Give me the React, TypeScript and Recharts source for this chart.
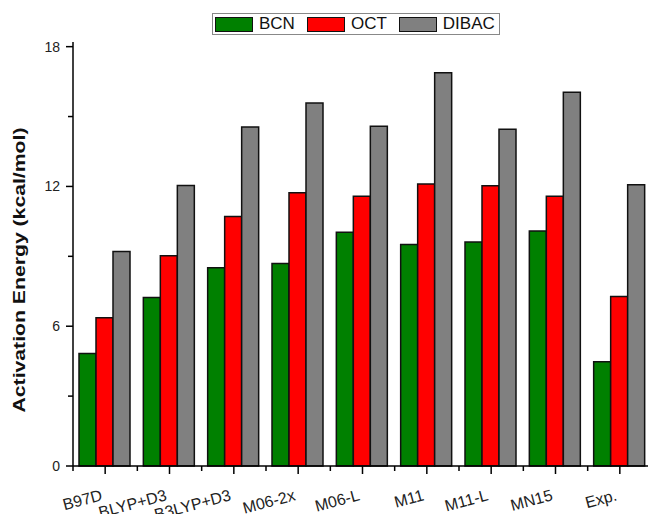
import React from "react";
import {
  BarChart,
  Bar,
  XAxis,
  YAxis,
  Legend,
} from "recharts";

// functionals / reference along the x axis
const categories = [
  "B97D",
  "BLYP+D3",
  "B3LYP+D3",
  "M06-2x",
  "M06-L",
  "M11",
  "M11-L",
  "MN15",
  "Exp.",
];

// activation energies in kcal/mol
const bcn = [4.83, 7.23, 8.51, 8.69, 10.03, 9.51, 9.61, 10.09, 4.47];
const oct = [6.36, 9.02, 10.71, 11.73, 11.58, 12.11, 12.03, 11.58, 7.28];
const dibac = [9.21, 12.04, 14.55, 15.58, 14.58, 16.88, 14.45, 16.04, 12.07];

const seriesNames = ["BCN", "OCT", "DIBAC"];
const yTicks = [0, 3, 6, 9, 12, 15, 18];

const data = categories.map((name, i) => ({
  name,
  BCN: bcn[i],
  OCT: oct[i],
  DIBAC: dibac[i],
}));

const FONT = "Arial, 'Liberation Sans', sans-serif";
const CHART_W = 660;
const CHART_H = 514;
const LEFT = 73;
const RIGHT = 8;
const BAND = (CHART_W - LEFT - RIGHT) / categories.length;

function YTick(props: any) {
  const { x, y, payload } = props;
  const major = payload.value % 6 === 0;
  return (
    <g>
      <line
        x1={x - (major ? 7 : 5)}
        x2={x}
        y1={y}
        y2={y}
        stroke="#000"
        strokeWidth={1.5}
      />
      {major && (
        <text
          x={x - 13}
          y={y}
          dy={5}
          textAnchor="end"
          fontSize={14}
          fontFamily={FONT}
          fill="#222"
        >
          {payload.value}
        </text>
      )}
    </g>
  );
}

function XTick(props: any) {
  const { x, y, payload } = props;
  const lx = x - 2;
  const ly = y + 34;
  return (
    <g>
      <line x1={x} x2={x} y1={y} y2={y + 8} stroke="#000" strokeWidth={1.5} />
      <line
        x1={x - BAND / 2}
        x2={x - BAND / 2}
        y1={y}
        y2={y + 5}
        stroke="#000"
        strokeWidth={1.5}
      />
      <text
        x={lx}
        y={ly}
        textAnchor="end"
        fontSize={16}
        fontFamily={FONT}
        fill="#222"
        transform={`rotate(-15, ${lx}, ${ly})`}
      >
        {payload.value}
      </text>
    </g>
  );
}

function YLabel() {
  return (
    <text
      x={25}
      y={270}
      transform="rotate(-90, 25, 270)"
      textAnchor="middle"
      fontSize={17}
      fontWeight="bold"
      fontFamily={FONT}
      fill="#111"
      textLength={285}
      lengthAdjust="spacingAndGlyphs"
    >
      Activation Energy (kcal/mol)
    </text>
  );
}

function LegendBox(props: any) {
  const items = [...(props.payload || [])].sort(
    (a: any, b: any) =>
      seriesNames.indexOf(a.value) - seriesNames.indexOf(b.value)
  );
  return (
    <div
      style={{
        display: "flex",
        alignItems: "center",
        border: "1.5px solid #888",
        background: "#fff",
        height: 20,
        padding: "0 0 0 2px",
        boxSizing: "content-box",
        fontFamily: FONT,
        fontSize: 17,
        color: "#111",
      }}
    >
      {items.map((entry: any, i: number) => (
        <div
          key={entry.value}
          style={{
            display: "flex",
            alignItems: "center",
            marginRight: i === items.length - 1 ? 4 : 12,
          }}
        >
          <div
            style={{
              width: 36,
              height: 13,
              background: entry.color,
              border: "1.5px solid #111",
              marginRight: 6,
            }}
          />
          <span style={{ lineHeight: "20px" }}>{entry.value}</span>
        </div>
      ))}
    </div>
  );
}

export default function App() {
  return (
    <div
      style={{
        position: "absolute",
        left: 0,
        top: 0,
        width: 648,
        height: 514,
        overflow: "hidden",
        background: "#fff",
      }}
    >
      <BarChart
        width={CHART_W}
        height={CHART_H}
        data={data}
        margin={{ top: 42, right: RIGHT, bottom: 0, left: 0 }}
        barGap={0}
        barCategoryGap={6}
      >
        <XAxis
          dataKey="name"
          interval={0}
          height={48}
          tickSize={0}
          tickMargin={0}
          tick={<XTick />}
          axisLine={{ stroke: "#000", strokeWidth: 1.5 }}
        />
        <XAxis
          xAxisId="top"
          orientation="top"
          dataKey="name"
          height={0}
          tick={false}
          tickLine={false}
          axisLine={{ stroke: "#000", strokeWidth: 1.5 }}
        />
        <YAxis
          width={LEFT}
          domain={[0, 18.2]}
          ticks={yTicks}
          interval={0}
          tickSize={0}
          tickMargin={0}
          tick={<YTick />}
          axisLine={{ stroke: "#000", strokeWidth: 1.5 }}
          label={{ content: () => <YLabel /> }}
        />
        <Legend
          verticalAlign="middle"
          align="center"
          content={<LegendBox />}
          wrapperStyle={{ top: 13, left: 212, width: "auto" }}
        />
        <Bar
          dataKey="BCN"
          name="BCN"
          fill="#008000"
          stroke="#111"
          strokeWidth={1.5}
          isAnimationActive={false}
        />
        <Bar
          dataKey="OCT"
          name="OCT"
          fill="#ff0000"
          stroke="#111"
          strokeWidth={1.5}
          isAnimationActive={false}
        />
        <Bar
          dataKey="DIBAC"
          name="DIBAC"
          fill="#808080"
          stroke="#111"
          strokeWidth={1.5}
          isAnimationActive={false}
        />
      </BarChart>
    </div>
  );
}
